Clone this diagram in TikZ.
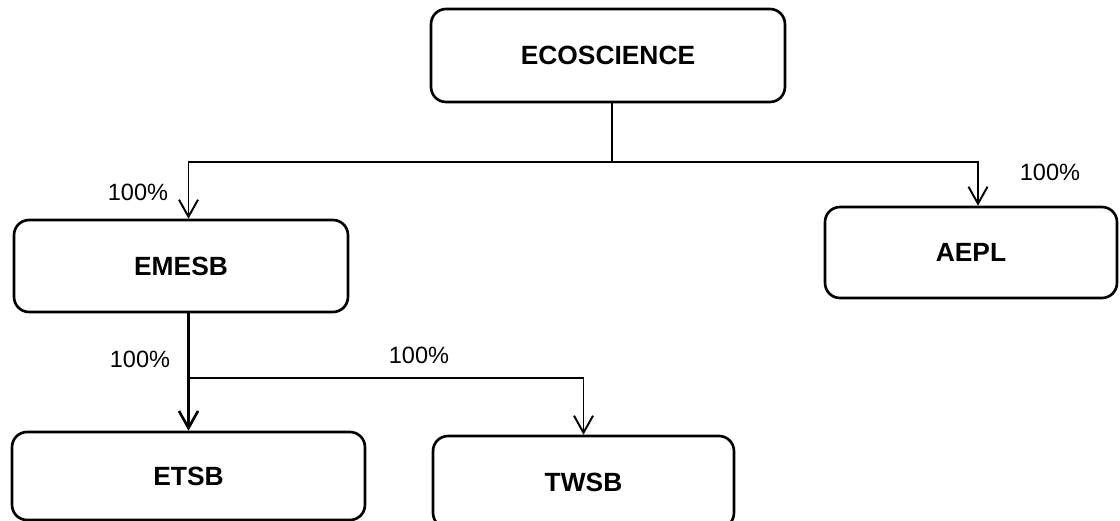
\documentclass[tikz,border=0pt]{standalone}
\usepackage{fontspec}
\setmainfont{Liberation Sans}
\usetikzlibrary{arrows.meta}

\begin{document}
\begin{tikzpicture}[x=0.02cm,y=-0.02cm,
  box/.style={draw,line width=1.5pt,rounded corners=0.3cm,inner sep=0pt,
    font=\bfseries\fontsize{15}{18}\selectfont},
  link/.style={line width=1.1pt},
  arr/.style={link,-{Straight Barb[length=0.34cm,width=0.38cm]}},
  pct/.style={inner sep=0pt,font=\fontsize{13.4}{16}\selectfont}]
  \useasboundingbox (0,0) rectangle (1120,521);
  \node[box,minimum width=7.08cm,minimum height=1.86cm] (eco) at (608,55.5) {ECOSCIENCE};
  \node[box,minimum width=6.68cm,minimum height=1.84cm] (emesb) at (181,266) {EMESB};
  \node[box,minimum width=5.84cm,minimum height=1.82cm] (aepl) at (971,252.5) {AEPL};
  \node[box,minimum width=7.06cm,minimum height=1.76cm] (etsb) at (188.5,476) {ETSB};
  \node[box,minimum width=6.02cm,minimum height=1.84cm] (twsb) at (583.5,482) {TWSB};
  \coordinate (j1) at (612,162);
  \draw[link] (eco.south -| j1) -- (j1);
  \draw[arr] (j1) -| (emesb.north -| etsb.north);
  \draw[arr] (j1) -| ([xshift=0.14cm]aepl.north);
  \coordinate (j2) at (etsb.north |- 0,378);
  \draw[arr,line width=1.5pt] (emesb.south -| etsb.north) -- (etsb.north);
  \draw[arr] (j2) -| (twsb.north);
  \node[pct] (p1) at (138,192) {100\%};
  \node[pct] (p2) at (1050,172) {100\%};
  \node[pct] (p3) at (140,359) {100\%};
  \node[pct] (p4) at (419,355) {100\%};
\end{tikzpicture}
\end{document}
